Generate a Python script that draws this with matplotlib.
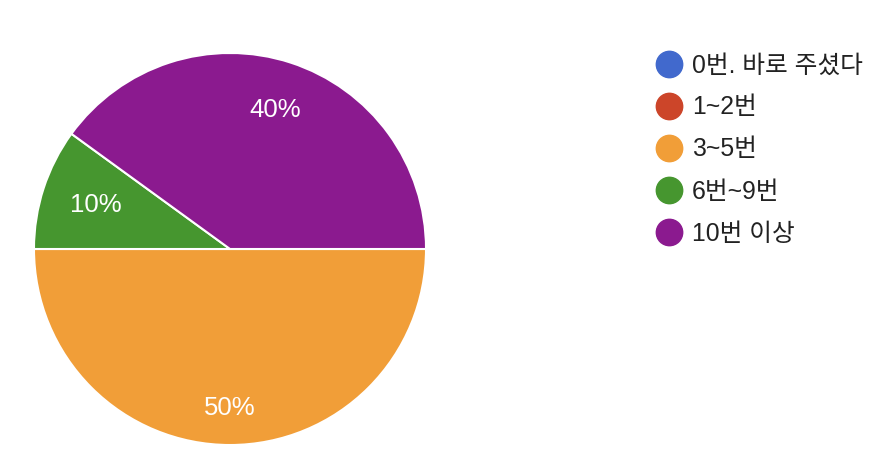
import matplotlib
matplotlib.use("Agg")
import matplotlib.pyplot as plt
from matplotlib.lines import Line2D

plt.rcParams['font.family'] = ['Liberation Sans', 'Noto Sans CJK KR', 'DejaVu Sans']

labels = ["0번. 바로 주셨다", "1~2번", "3~5번", "6번~9번", "10번 이상"]
shares = [0, 0, 50, 10, 40]
colors = ["#4169cd", "#cc4529", "#f19e38", "#46962f", "#8b1a8f"]

W, H = 894, 454
fig = plt.figure(figsize=(W / 100, H / 100), dpi=100)

cx, cy, r = 230, 249, 197
ax = fig.add_axes([(cx - r) / W, (H - cy - r) / H, 2 * r / W, 2 * r / H])


def pct(p):
    return "" if p < 0.5 else "%d%%" % round(p)


wedges, texts, autotexts = ax.pie(
    shares, colors=colors, startangle=0, counterclock=False,
    autopct=pct, pctdistance=0.77,
    wedgeprops=dict(edgecolor="white", linewidth=1.5),
    textprops=dict(color="white", fontsize=18.5))

# label distance from centre differs per slice in the original
label_dist = [0.77, 0.77, 0.81, 0.72, 0.745]
for t, d in zip(autotexts, label_dist):
    x, y = t.get_position()
    t.set_position((x * d / 0.77, y * d / 0.77))

ax.set_xlim(-1.005, 1.005)
ax.set_ylim(-1.005, 1.005)
ax.set_aspect("equal")

handles = [Line2D([], [], marker="o", linestyle="", markersize=19,
                  markerfacecolor=c, markeredgecolor=c) for c in colors]
fig.legend(handles, labels, loc="upper left",
           bbox_to_anchor=(644 / W, 1 - 41 / H), frameon=False,
           fontsize=17.8, labelspacing=0.73, handlelength=1.0,
           handletextpad=0.45, borderpad=0, labelcolor="#222222")

fig.savefig("out.png", dpi=100)
